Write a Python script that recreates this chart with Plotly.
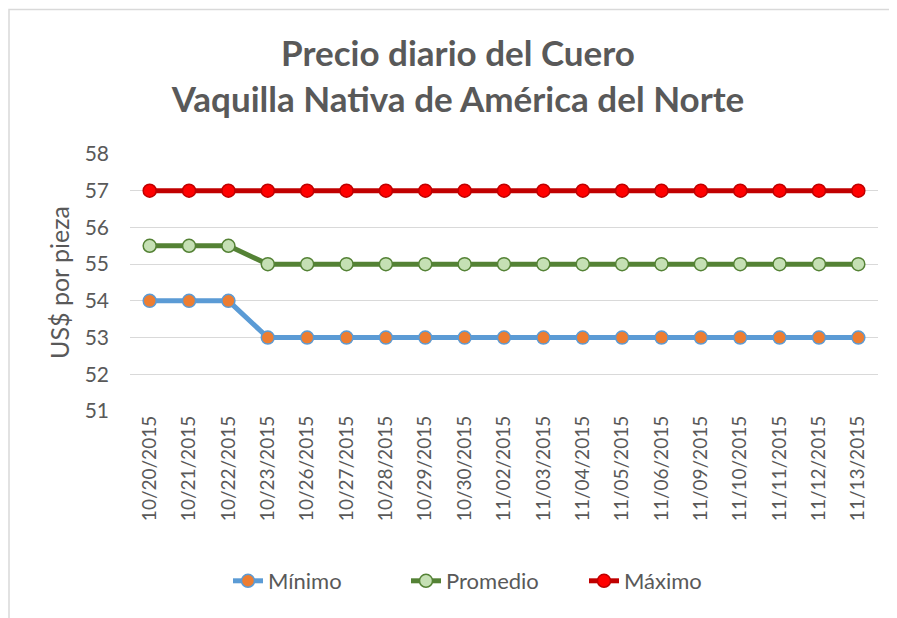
import plotly.graph_objects as go

dates = ["10/20/2015", "10/21/2015", "10/22/2015", "10/23/2015", "10/26/2015",
         "10/27/2015", "10/28/2015", "10/29/2015", "10/30/2015", "11/02/2015",
         "11/03/2015", "11/04/2015", "11/05/2015", "11/06/2015", "11/09/2015",
         "11/10/2015", "11/11/2015", "11/12/2015", "11/13/2015"]
minimo = [54, 54, 54] + [53] * 16
promedio = [55.5, 55.5, 55.5] + [55] * 16
maximo = [57] * 19

OFF = 8  # page body margin
W, H = 897 - OFF, 618 - OFF
# target page pixels for plot area
PL, PR, PT, PB = 130, 878, 154, 411
L, T = PL - OFF, PT - OFF
R = W - (PR - OFF)
B = H - (PB - OFF)
pw = PR - PL
ph = PB - PT
FONT = "Lato"
GRAY = "#595959"


def px_x(x):
    return (x - PL) / pw


def px_y(y):
    return (PB - y) / ph


fig = go.Figure()
fig.add_trace(go.Scatter(
    x=dates, y=minimo, name="Mínimo", mode="lines+markers",
    line=dict(color="#5B9BD5", width=5),
    marker=dict(size=13, color="#ED7D31", line=dict(color="#5B9BD5", width=1.5))))
fig.add_trace(go.Scatter(
    x=dates, y=promedio, name="Promedio", mode="lines+markers",
    line=dict(color="#548235", width=5),
    marker=dict(size=13, color="#C5E0B4", line=dict(color="#548235", width=1.5))))
fig.add_trace(go.Scatter(
    x=dates, y=maximo, name="Máximo", mode="lines+markers",
    line=dict(color="#C00000", width=5),
    marker=dict(size=13, color="#FF0000", line=dict(color="#C00000", width=1.5))))

fig.add_shape(type="rect", xref="paper", yref="paper",
              x0=px_x(OFF + 1), x1=px_x(930), y0=px_y(650), y1=px_y(9.5),
              line=dict(color="#d9d9d9", width=1.5), fillcolor="rgba(0,0,0,0)", layer="below")

fig.update_layout(
    width=W, height=H,
    margin=dict(l=L, r=R, t=T, b=B, autoexpand=False),
    paper_bgcolor="white", plot_bgcolor="white",
    font=dict(family=FONT, color=GRAY),
    title=dict(text="<b>Precio diario del Cuero<br>Vaquilla Nativa de América del Norte</b>",
               x=(458 - OFF) / W, xanchor="center", y=1 - (76 - 10 - OFF) / H, yanchor="middle",
               font=dict(size=35, color=GRAY, family=FONT)),
    xaxis=dict(type="category", range=[-0.5, len(dates) - 0.5], tickangle=-90,
               tickfont=dict(size=19, color=GRAY),
               showgrid=False, showline=False, ticks="", zeroline=False, automargin=False),
    yaxis=dict(range=[51, 58], dtick=1, tickfont=dict(size=21, color=GRAY),
               showgrid=True, gridcolor="#d9d9d9", gridwidth=1.2, zeroline=False,
               showline=False, ticks="", ticklabelstandoff=20, automargin=False,
               title=dict(text="US$ por pieza", font=dict(size=25, color=GRAY), standoff=7)),
    legend=dict(orientation="h", x=px_x(228), xanchor="left",
                y=px_y(581), yanchor="middle", entrywidth=133,
                font=dict(size=22, color=GRAY), traceorder="normal"),
    showlegend=True,
)

fig.write_html("out.html")
